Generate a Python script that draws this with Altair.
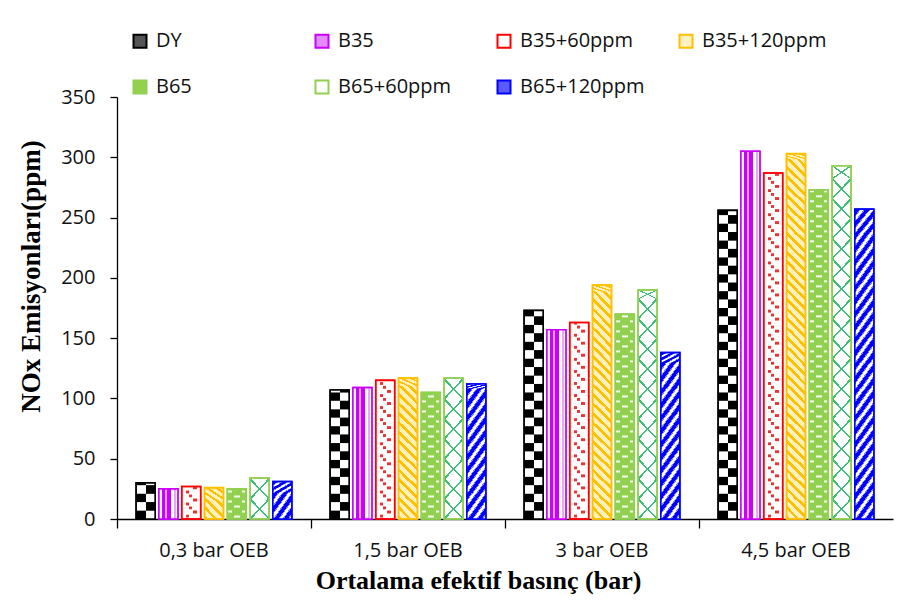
import altair as alt
import pandas as pd

groups = ["0,3 bar OEB", "1,5 bar OEB", "3 bar OEB", "4,5 bar OEB"]
series = ["DY", "B35", "B35+60ppm", "B35+120ppm", "B65", "B65+60ppm", "B65+120ppm"]

DY = [30, 107, 173, 256]
B35 = [25, 109, 157, 305]
B35_60 = [27, 115, 163, 287]
B35_120 = [26, 117, 194, 303]
B65 = [25, 105, 170, 273]
B65_60 = [34, 117, 190, 293]
B65_120 = [31, 112, 138, 257]

all_vals = [DY, B35, B35_60, B35_120, B65, B65_60, B65_120]
rows = []
for s, vals in zip(series, all_vals):
    for g, v in zip(groups, vals):
        rows.append({"group": g, "series": s, "value": v})
df = pd.DataFrame(rows)

stroke_colors = ["#000000", "#CC00FF", "#FF0000", "#FFC000", "#92D050", "#92D050", "#0000FF"]
legend_fills = ["#555555", "#E28CFF", "#FFFFFF", "#FFF0C0", "#92D050", "#FFFFFF", "#5A5AFF"]

SANS = "Open Sans"
SERIF = "Liberation Serif"
T0 = "rgba(255,255,255,0)"

x_scale = alt.Scale(domain=groups, paddingInner=0, paddingOuter=0)
xo_scale = alt.Scale(domain=series, paddingInner=0.167, paddingOuter=0.84)
y_scale = alt.Scale(domain=[0, 350], nice=False)

x_axis = alt.Axis(
    title="Ortalama efektif basınç (bar)", titleFont=SERIF, titleFontSize=26,
    titleFontWeight="bold", titleColor="#000", titleX=361, titleY=61,
    titleAlign="center", titleBaseline="middle",
    labelFont=SANS, labelFontSize=20, labelColor="#111", labelAngle=0,
    labelPadding=12, bandPosition=0,
    tickSize=9, tickColor="#000", tickWidth=1.3,
    domainColor="#000", domainWidth=1.3, grid=False,
)
y_axis = alt.Axis(
    title="NOx Emisyonları(ppm)", titleFont=SERIF, titleFontSize=27,
    titleFontWeight="bold", titleColor="#000", titleX=-86, titleY=179,
    titleAlign="center", titleBaseline="middle", titleAngle=270,
    labelFont=SANS, labelFontSize=20, labelColor="#111", labelPadding=15,
    values=[0, 50, 100, 150, 200, 250, 300, 350],
    tickSize=7, tickColor="#000", tickWidth=1.3,
    domainColor="#000", domainWidth=1.3, grid=False,
)

X = alt.X("group:N", scale=x_scale, axis=x_axis, sort=groups)
XO = alt.XOffset("series:N", scale=xo_scale, sort=series)


def grad(segs, x1=0, y1=0, x2=1, y2=0):
    stops = []
    for a, b, c in segs:
        stops.append({"offset": a, "color": c})
        stops.append({"offset": b, "color": c})
    return {"gradient": "linear", "x1": x1, "y1": y1, "x2": x2, "y2": y2, "stops": stops}


def periodic(period, on, color, off=T0):
    segs = []
    n = int(round(1 / period))
    for i in range(n):
        s = i * period
        segs.append((s, s + on, color))
        segs.append((s + on, s + period, off))
    return segs


base = alt.Chart(df).mark_bar(strokeWidth=1.5).encode(
    x=X, xOffset=XO,
    y=alt.Y("value:Q", scale=y_scale, axis=y_axis),
    fill=alt.Fill("series:N", scale=alt.Scale(domain=series, range=legend_fills),
                  legend=alt.Legend(title=None)),
    stroke=alt.Stroke("series:N", scale=alt.Scale(domain=series, range=stroke_colors),
                      legend=alt.Legend(title=None)),
)


def tiles(name, start, step, height, fill, overlap=0.4):
    return alt.Chart(df).transform_filter(
        alt.datum.series == name
    ).transform_calculate(
        k=f"sequence({start}, datum.value, {step})"
    ).transform_flatten(["k"]).transform_calculate(
        k2=f"min(datum.k + {height} + {overlap}, datum.value)"
    ).mark_bar(fill=fill, strokeWidth=0).encode(
        x=X, xOffset=XO,
        y=alt.Y("k:Q", scale=y_scale, axis=y_axis),
        y2="k2:Q",
    )


layers = [base]

# DY checkerboard
C = 7.0
layers.append(tiles("DY", 0, 2 * C, C, grad([(0, 0.5, "#000"), (0.5, 1, "#fff")]), overlap=0))
layers.append(tiles("DY", C, 2 * C, C, grad([(0, 0.5, "#fff"), (0.5, 1, "#000")]), overlap=0))

# B35 vertical stripes
P, L, W = "#CC00FF", "#E9A6FF", "#FFFFFF"
b35_grad = grad([(0, 0.14, W), (0.14, 0.34, P), (0.34, 0.44, L), (0.44, 0.64, P),
                 (0.64, 0.82, W), (0.82, 0.88, L), (0.88, 1, W)])
layers.append(alt.Chart(df).transform_filter(alt.datum.series == "B35").mark_bar(
    fill=b35_grad, strokeWidth=0).encode(
    x=X, xOffset=XO, y=alt.Y("value:Q", scale=y_scale, axis=y_axis)))

# B35+60ppm red dots
R = "#F23030"
layers.append(tiles("B35+60ppm", 1.2, 10, 2.4,
                    grad([(0, 0.2, T0), (0.2, 0.36, R), (0.36, 1, T0)]), overlap=0))
layers.append(tiles("B35+60ppm", 4.6, 10, 2.4,
                    grad([(0, 0.62, T0), (0.62, 0.78, R), (0.78, 1, T0)]), overlap=0))
layers.append(tiles("B35+60ppm", 8.0, 10, 2.4,
                    grad([(0, 0.4, T0), (0.4, 0.56, R), (0.56, 1, T0)]), overlap=0))

# B35+120ppm orange diagonal
O = "#FFC000"
layers.append(tiles("B35+120ppm", 0, 15.7, 15.7,
                    grad(periodic(0.25, 0.1, O), x1=0, y1=1, x2=1, y2=0)))

# B65 green with white dashes
WD = "#F4FBEE"
layers.append(tiles("B65", 1.2, 8.3, 1.7,
                    grad([(0, 0.34, T0), (0.34, 0.66, WD), (0.66, 1, T0)]), overlap=0))
layers.append(tiles("B65", 5.35, 8.3, 1.7,
                    grad([(0, 0.05, T0), (0.05, 0.24, WD), (0.24, 0.76, T0),
                          (0.76, 0.95, WD), (0.95, 1, T0)]), overlap=0))

# B65+60ppm lattice
LG = "#3DBE7A"
lat = [(0, 0.03, LG), (0.03, 0.47, T0), (0.47, 0.53, LG), (0.53, 0.97, T0), (0.97, 1, LG)]
layers.append(tiles("B65+60ppm", 0, 16.6, 16.6, grad(lat, x1=0, y1=0, x2=1, y2=1), overlap=0))
layers.append(tiles("B65+60ppm", 0, 16.6, 16.6, grad(lat, x1=1, y1=0, x2=0, y2=1), overlap=0))

# B65+120ppm blue diagonal stripes
BL = "#0000FF"
blue_segs = []
for i in range(4):
    s = i * 0.25
    blue_segs += [(s, s + 0.03, "#8080FF"), (s + 0.03, s + 0.14, BL),
                  (s + 0.14, s + 0.17, "#8080FF"), (s + 0.17, s + 0.25, "#FFFFFF")]
layers.append(tiles("B65+120ppm", 0, 21.6, 21.6, grad(blue_segs, x1=0, y1=0, x2=1, y2=1)))

# outlines on top
for s, c in zip(series, stroke_colors):
    layers.append(alt.Chart(df).transform_filter(alt.datum.series == s).mark_bar(
        fillOpacity=0, stroke=c, strokeWidth=1.6).encode(
        x=X, xOffset=XO, y=alt.Y("value:Q", scale=y_scale, axis=y_axis)))

chart = alt.layer(*layers).properties(
    width=776, height=422,
    padding={"left": 117, "top": 97, "right": 10, "bottom": 94},
    autosize=alt.AutoSizeParams(type="none"),
    background="white",
).configure_view(stroke=None).configure_legend(
    orient="none", legendX=13, legendY=-66, columns=4, direction="horizontal",
    symbolType="square", symbolSize=169, symbolStrokeWidth=2,
    labelFont=SANS, labelFontSize=20, labelColor="#111", labelOffset=6, labelLimit=300,
    columnPadding=30, rowPadding=24, gridAlign="all",
)

chart.save("out.html", embed_options={"renderer": "svg", "actions": False})
